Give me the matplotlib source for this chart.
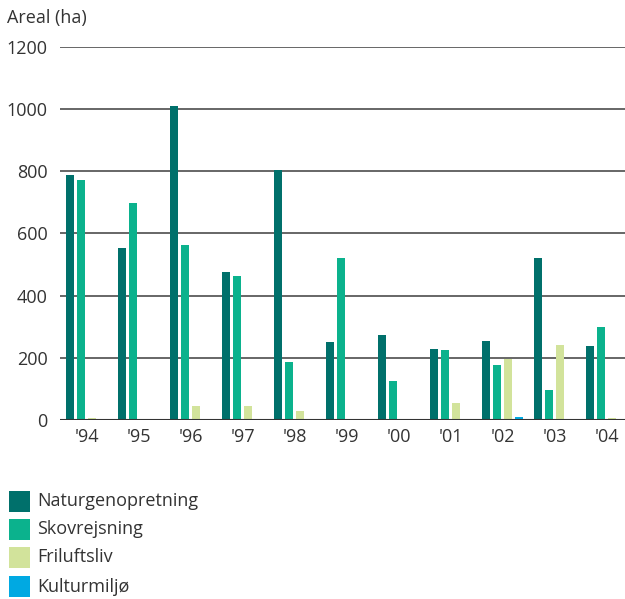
import matplotlib
matplotlib.use("Agg")
import matplotlib.pyplot as plt
import numpy as np
from matplotlib.patches import Rectangle

years = ["'94", "'95", "'96", "'97", "'98", "'99", "'00", "'01", "'02", "'03", "'04"]
naturgenopretning = [787, 553, 1009, 476, 804, 251, 273, 228, 254, 521, 238]
skovrejsning = [771, 698, 563, 463, 186, 521, 125, 225, 177, 97, 299]
friluftsliv = [7, 2, 45, 45, 30, 3, 0, 55, 196, 241, 6]
kulturmiljo = [0, 0, 0, 0, 0, 2, 3, 2, 9, 1, 1]

series_names = ["Naturgenopretning", "Skovrejsning", "Friluftsliv", "Kulturmiljø"]
colors = ["#00706b", "#0bb28d", "#d2e39b", "#00a9e2"]
yticks = [0, 200, 400, 600, 800, 1000, 1200]

plt.rcParams['font.family'] = ['Open Sans', 'DejaVu Sans']
text_color = "#333333"

W, H = 625, 599
fig = plt.figure(figsize=(W / 100, H / 100), dpi=100)
ax = fig.add_axes([60 / W, (H - 420) / H, 565 / W, (420 - 46.7) / H])

x = np.arange(len(years))
step = 11 / 52
width = 8 / 52
data = [naturgenopretning, skovrejsning, friluftsliv, kulturmiljo]
for k, (vals, c) in enumerate(zip(data, colors)):
    ax.bar(x + (k - 1.5) * step, vals, width=width, color=c, zorder=3)

ax.set_xlim(-0.51, 10.356)
ax.set_ylim(0, 1200)
ax.set_yticks(yticks)
ax.set_yticklabels([str(v) for v in yticks], fontsize=13, color=text_color)
ax.set_xticks(x)
ax.set_xticklabels(years, fontsize=13, color=text_color)
ax.tick_params(length=0, pad=6)
ax.tick_params(axis='y', pad=9)
for s in ax.spines.values():
    s.set_visible(False)
ax.grid(axis='y', color="#5a5a5a", linewidth=1.3, zorder=0)
ax.axhline(0, color="#333333", linewidth=1.5, zorder=4)

fig.text(7 / W, 1 - 18 / H, "Areal (ha)", fontsize=13, color=text_color,
         va="center", ha="left")

# legend drawn as swatches + labels in figure pixels
row_tops = [491, 519, 547, 576]
for name, c, top in zip(series_names, colors, row_tops):
    fig.add_artist(Rectangle((9 / W, 1 - (top + 21) / H), 21 / W, 21 / H,
                             transform=fig.transFigure, facecolor=c,
                             edgecolor='none'))
    fig.text(37 / W, 1 - (top + 10.5) / H, name, fontsize=13, color=text_color,
             va="center", ha="left")

fig.savefig("out.png", dpi=100)
